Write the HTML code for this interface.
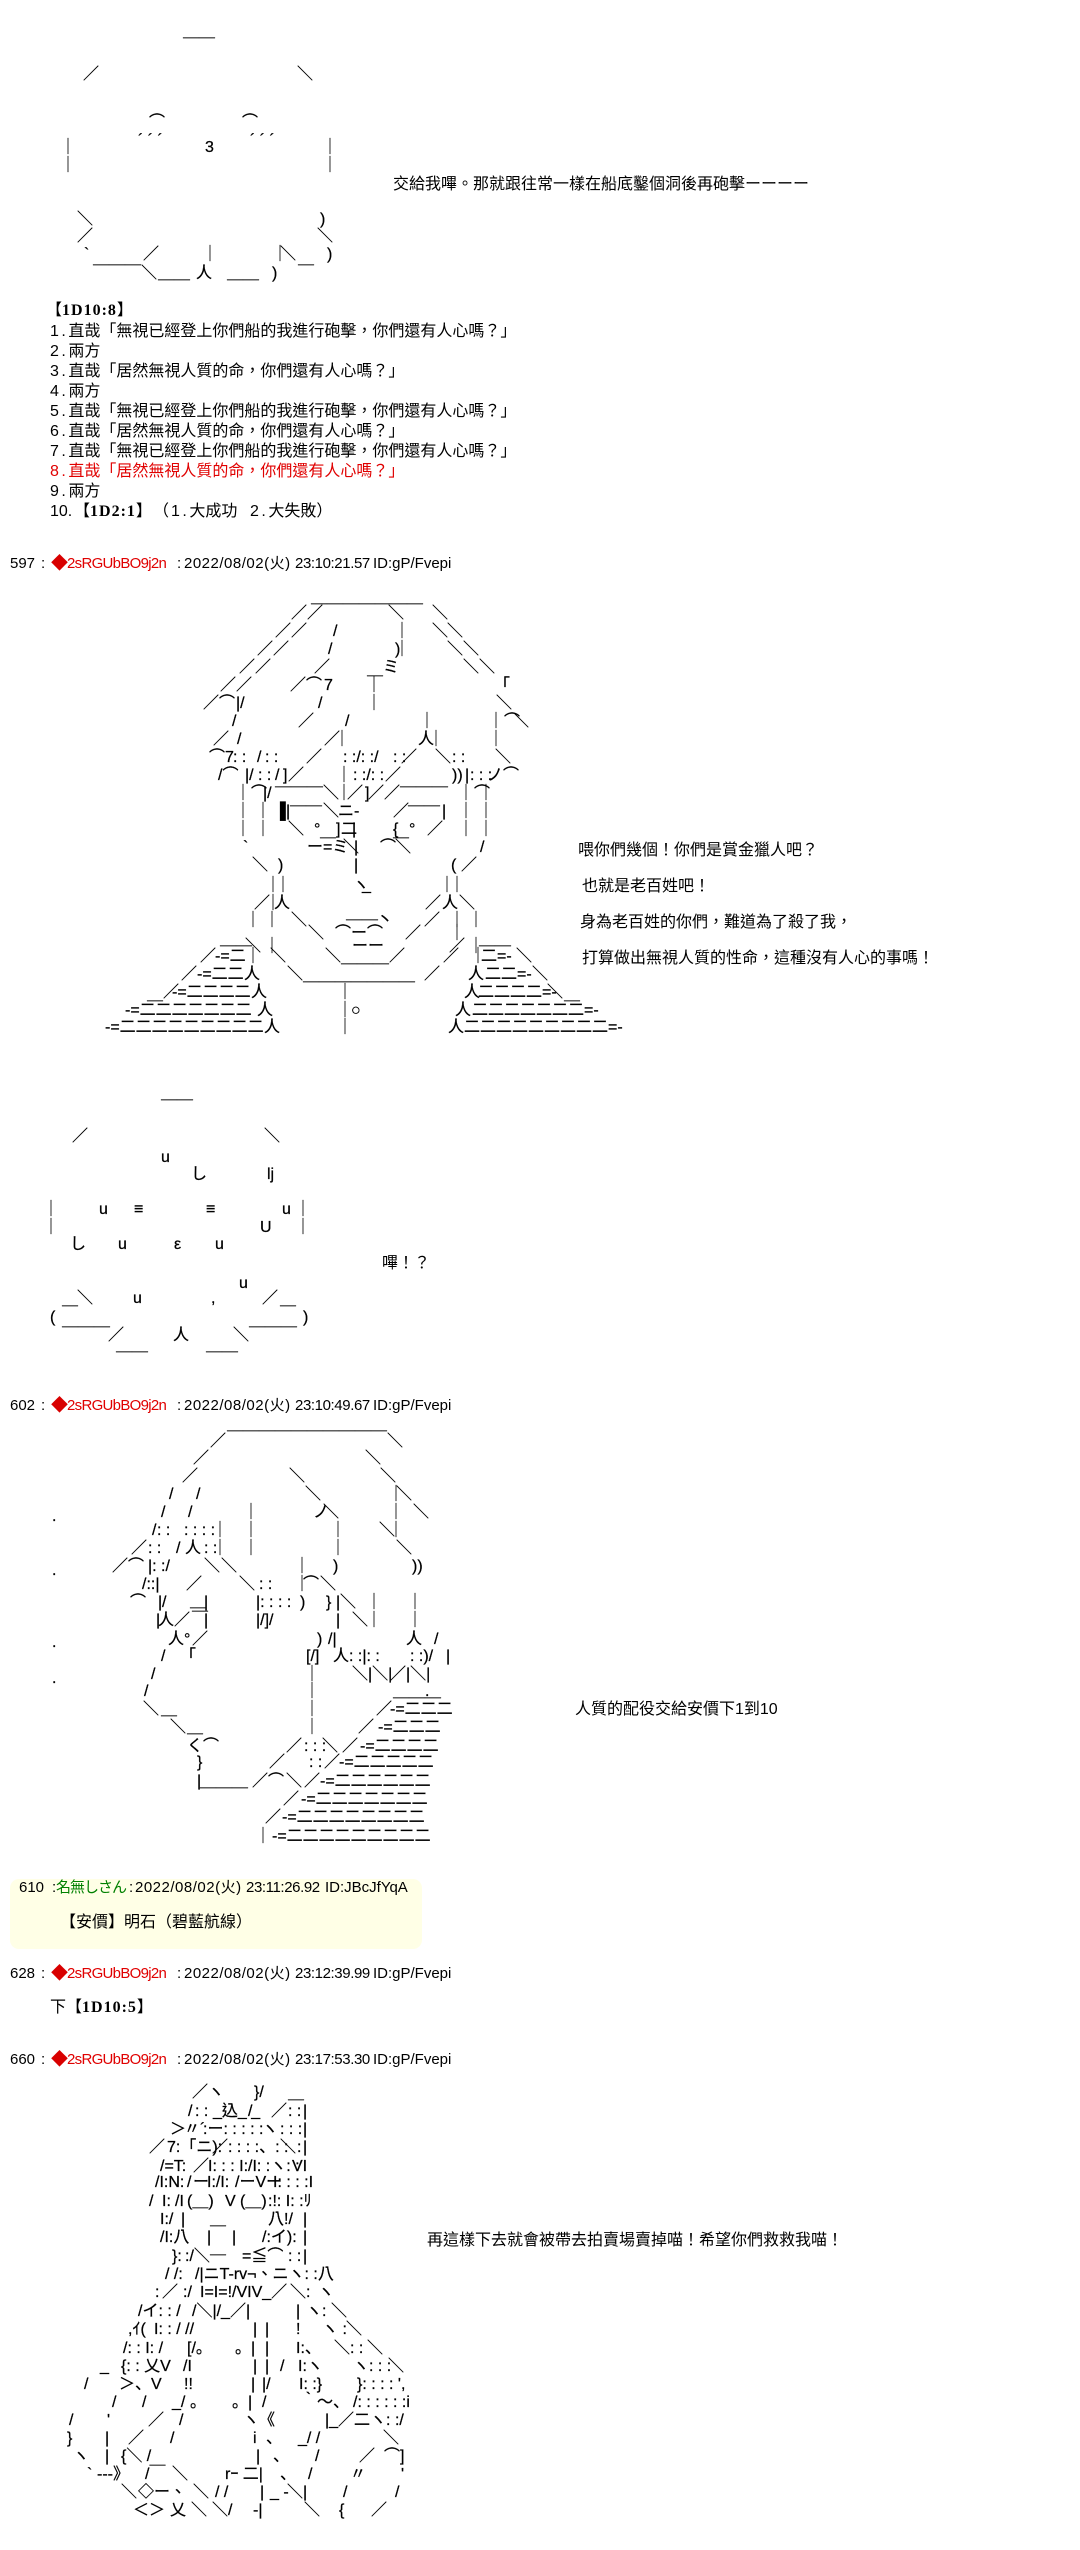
<!DOCTYPE html>
<html lang="zh-Hant"><head><meta charset="utf-8"><title>AA</title>
<style>
html,body{margin:0;padding:0;background:#fff}
#p{position:relative;width:1080px;height:2550px;overflow:hidden;background:#fff;color:#000;font:16px/18px "Liberation Sans","Noto Sans CJK JP",sans-serif}
.r{position:absolute;left:0;height:18px;width:1080px;-webkit-text-stroke:.25px #000}
.r u{position:absolute;top:0;text-decoration:none;white-space:pre}
.t{position:absolute;white-space:pre;font:16px/20px "Liberation Sans","Noto Sans CJK TC",sans-serif}
.t b{font:bold 16px/20px "Liberation Serif","Noto Sans CJK TC",serif;letter-spacing:1px}
.t i{font-style:normal;letter-spacing:2.5px}
.h{position:absolute;height:18px;width:600px;font:15px/18px "Liberation Sans","Noto Sans CJK JP",sans-serif}
.h u{position:absolute;top:0;text-decoration:none;white-space:pre}
.h .n{color:#e00000;letter-spacing:-.7px}
.h .d{font-size:17px;color:#d80000;margin-left:2px}
.h .a{letter-spacing:.5px}
.h .c{letter-spacing:-.4px}
#y{position:absolute;left:10px;top:1879px;width:412px;height:70px;background:#ffffe6;border-radius:9px}
</style></head><body><div id="p">

<div class="t" style="left:393px;top:175px">交給我嗶。那就跟往常一樣在船底鑿個洞後再砲擊ーーーー</div>
<div class="t" style="left:46px;top:301px">【<b>1D10:8</b>】</div>
<div class="t" style="left:50px;top:322px"><i>1.</i>直哉「無視已經登上你們船的我進行砲擊，你們還有人心嗎？」</div>
<div class="t" style="left:50px;top:342px"><i>2.</i>兩方</div>
<div class="t" style="left:50px;top:362px"><i>3.</i>直哉「居然無視人質的命，你們還有人心嗎？」</div>
<div class="t" style="left:50px;top:382px"><i>4.</i>兩方</div>
<div class="t" style="left:50px;top:402px"><i>5.</i>直哉「無視已經登上你們船的我進行砲擊，你們還有人心嗎？」</div>
<div class="t" style="left:50px;top:422px"><i>6.</i>直哉「居然無視人質的命，你們還有人心嗎？」</div>
<div class="t" style="left:50px;top:442px"><i>7.</i>直哉「無視已經登上你們船的我進行砲擊，你們還有人心嗎？」</div>
<div class="t" style="left:50px;top:462px;color:#e00000"><i>8.</i>直哉「居然無視人質的命，你們還有人心嗎？」</div>
<div class="t" style="left:50px;top:482px"><i>9.</i>兩方</div>
<div class="t" style="left:50px;top:502px">10.</div>
<div class="t" style="left:74px;top:502px">【<b>1D2:1</b>】</div>
<div class="t" style="left:153px;top:502px">（</div>
<div class="t" style="left:171px;top:502px"><i>1.</i>大成功</div>
<div class="t" style="left:250px;top:502px"><i>2.</i>大失敗）</div>

<div class="t" style="left:578px;top:841px">喂你們幾個！你們是賞金獵人吧？</div>
<div class="t" style="left:582px;top:877px">也就是老百姓吧！</div>
<div class="t" style="left:580px;top:913px">身為老百姓的你們，難道為了殺了我，</div>
<div class="t" style="left:582px;top:949px">打算做出無視人質的性命，這種沒有人心的事嗎！</div>
<div class="t" style="left:382px;top:1254px">嗶！？</div>
<div class="t" style="left:575px;top:1700px">人質的配役交給安價下1到10</div>
<div class="t" style="left:427px;top:2231px">再這樣下去就會被帶去拍賣場賣掉喵！希望你們救救我喵！</div>

<div class="h" style="left:0;top:555px"><u style="left:10px">597</u><u style="left:41px">:</u><u class="d" style="left:49px">◆</u><u class="n" style="left:67px">2sRGUbBO9j2n</u><u style="left:177px">:</u><u class="a" style="left:184px">2022/08/02(火)</u><u class="c" style="left:295px">23:10:21.57</u><u style="left:373px">ID:gP/Fvepi</u></div>
<div class="h" style="left:0;top:1397px"><u style="left:10px">602</u><u style="left:41px">:</u><u class="d" style="left:49px">◆</u><u class="n" style="left:67px">2sRGUbBO9j2n</u><u style="left:177px">:</u><u class="a" style="left:184px">2022/08/02(火)</u><u class="c" style="left:295px">23:10:49.67</u><u style="left:373px">ID:gP/Fvepi</u></div>
<div id="y"></div>
<div class="h" style="left:0;top:1879px"><u style="left:19px">610</u><u style="left:52px">:</u><u style="left:56px;color:#008000;letter-spacing:-1px">名無しさん</u><u style="left:129px">:</u><u class="a" style="left:135px">2022/08/02(火)</u><u class="c" style="left:246px">23:11:26.92</u><u style="left:325px">ID:JBcJfYqA</u></div>
<div class="t" style="left:60px;top:1913px">【安價】明石（碧藍航線）</div>
<div class="h" style="left:0;top:1965px"><u style="left:10px">628</u><u style="left:41px">:</u><u class="d" style="left:49px">◆</u><u class="n" style="left:67px">2sRGUbBO9j2n</u><u style="left:177px">:</u><u class="a" style="left:184px">2022/08/02(火)</u><u class="c" style="left:295px">23:12:39.99</u><u style="left:373px">ID:gP/Fvepi</u></div>
<div class="t" style="left:50px;top:1998px">下【<b>1D10:5</b>】</div>
<div class="h" style="left:0;top:2051px"><u style="left:10px">660</u><u style="left:41px">:</u><u class="d" style="left:49px">◆</u><u class="n" style="left:67px">2sRGUbBO9j2n</u><u style="left:177px">:</u><u class="a" style="left:184px">2022/08/02(火)</u><u class="c" style="left:295px">23:17:53.30</u><u style="left:373px">ID:gP/Fvepi</u></div>

<!-- figure 1 -->
<div class="r" style="top:23px"><u style="left:183px">＿＿</u></div>
<div class="r" style="top:66px"><u style="left:83px">／</u><u style="left:297px">＼</u></div>
<div class="r" style="top:114px"><u style="left:149px">⌒</u><u style="left:242px">⌒</u></div>
<div class="r" style="top:132px"><u style="left:138px">´ ´ ´</u><u style="left:250px">´ ´ ´</u></div>
<div class="r" style="top:139px"><u style="left:60px">｜</u><u style="left:205px">3</u><u style="left:322px">｜</u></div>
<div class="r" style="top:157px"><u style="left:60px">｜</u><u style="left:322px">｜</u></div>
<div class="r" style="top:211px"><u style="left:77px">＼</u><u style="left:320px">)</u></div>
<div class="r" style="top:228px"><u style="left:77px">／</u><u style="left:317px">＼</u></div>
<div class="r" style="top:246px"><u style="left:84px">`</u><u style="left:143px">／</u><u style="left:202px">｜</u><u style="left:272px">｜</u><u style="left:280px">＼</u><u style="left:327px">)</u></div>
<div class="r" style="top:250px"><u style="left:93px">＿＿＿</u><u style="left:298px">＿</u></div>
<div class="r" style="top:265px"><u style="left:141px">＼</u><u style="left:196px">人</u><u style="left:272px">)</u></div>
<div class="r" style="top:265px"><u style="left:158px">＿＿</u><u style="left:227px">＿＿</u></div>

<!-- figure 2 -->
<div class="r" style="top:589px"><u style="left:311px">＿＿＿＿＿＿＿</u></div>
<div class="r" style="top:605px"><u style="left:291px">／／</u><u style="left:388px">＼</u><u style="left:432px">＼</u></div>
<div class="r" style="top:623px"><u style="left:275px">／／</u><u style="left:333px">/</u><u style="left:394px">｜</u><u style="left:432px">＼</u><u style="left:447px">＼</u></div>
<div class="r" style="top:641px"><u style="left:257px">／／</u><u style="left:328px">/</u><u style="left:394px">｜</u><u style="left:395px">)</u><u style="left:447px">＼</u><u style="left:463px">＼</u></div>
<div class="r" style="top:659px"><u style="left:239px">／／</u><u style="left:314px">／</u><u style="left:383px">ミ</u><u style="left:463px">＼</u><u style="left:479px">＼</u></div>
<div class="r" style="top:661px"><u style="left:367px">＿</u></div>
<div class="r" style="top:677px"><u style="left:220px">／／</u><u style="left:290px">／⌒</u><u style="left:324px">7</u><u style="left:366px">｜</u><u style="left:494px">「</u></div>
<div class="r" style="top:695px"><u style="left:203px">／⌒</u><u style="left:236px">|/</u><u style="left:318px">/</u><u style="left:366px">｜</u><u style="left:496px">＼</u></div>
<div class="r" style="top:713px"><u style="left:232px">/</u><u style="left:298px">／</u><u style="left:345px">/</u><u style="left:419px">｜</u><u style="left:488px">｜⌒</u><u style="left:513px">＼</u></div>
<div class="r" style="top:731px"><u style="left:213px">／</u><u style="left:237px">/</u><u style="left:324px">／</u><u style="left:334px">｜</u><u style="left:418px">人</u><u style="left:428px">｜</u><u style="left:488px">｜</u></div>
<div class="r" style="top:749px"><u style="left:209px">⌒7</u><u style="left:233px">: :</u><u style="left:257px">/</u><u style="left:265px">: :</u><u style="left:306px">／</u><u style="left:343px">: :/: :/</u><u style="left:393px">: :</u><u style="left:401px">／</u><u style="left:435px">＼</u><u style="left:452px">: :</u><u style="left:495px">＼</u></div>
<div class="r" style="top:767px"><u style="left:218px">/⌒</u><u style="left:245px">|/</u><u style="left:258px">: :</u><u style="left:275px">/</u><u style="left:283px">]</u><u style="left:288px">／</u><u style="left:336px">｜</u><u style="left:353px">: :/: :</u><u style="left:385px">／</u><u style="left:452px">))</u><u style="left:465px">|</u><u style="left:470px">: : :</u><u style="left:487px">ノ⌒</u></div>
<div class="r" style="top:772px"><u style="left:275px">＿＿＿</u><u style="left:400px">＿＿＿</u></div>
<div class="r" style="top:785px"><u style="left:235px">｜⌒</u><u style="left:263px">|/</u><u style="left:323px">＼</u><u style="left:336px">｜</u><u style="left:347px">／</u><u style="left:365px">]</u><u style="left:368px">／／</u><u style="left:458px">｜⌒</u><u style="left:478px">｜</u></div>
<div class="r" style="top:791px"><u style="left:290px">＿＿</u><u style="left:408px">＿＿</u></div>
<div class="r" style="top:803px"><u style="left:235px">｜</u><u style="left:255px">｜</u><u style="left:280px">▌</u><u style="left:286px">|</u><u style="left:323px">＼</u><u style="left:338px">ニ-</u><u style="left:393px">／</u><u style="left:442px">|</u><u style="left:458px">｜</u><u style="left:478px">｜</u></div>
<div class="r" style="top:821px"><u style="left:235px">｜</u><u style="left:255px">｜</u><u style="left:288px">＼</u><u style="left:314px">°</u><u style="left:336px">]</u><u style="left:341px">二</u><u style="left:352px">|</u><u style="left:393px">{</u><u style="left:409px">°</u><u style="left:427px">／</u><u style="left:458px">｜</u><u style="left:478px">｜</u></div>
<div class="r" style="top:823px"><u style="left:320px">＿</u><u style="left:393px">＿</u></div>
<div class="r" style="top:839px"><u style="left:243px">`</u><u style="left:307px">ー=ミ</u><u style="left:343px">＼</u><u style="left:354px">|</u><u style="left:380px">⌒</u><u style="left:395px">＼</u><u style="left:480px">/</u></div>
<div class="r" style="top:857px"><u style="left:252px">＼</u><u style="left:278px">)</u><u style="left:354px">|</u><u style="left:451px">(</u><u style="left:461px">／</u></div>
<div class="r" style="top:877px"><u style="left:265px">｜</u><u style="left:275px">｜</u><u style="left:353px">ヽ</u><u style="left:362px">_</u><u style="left:439px">｜</u><u style="left:449px">｜</u></div>
<div class="r" style="top:895px"><u style="left:254px">／</u><u style="left:265px">｜</u><u style="left:274px">人</u><u style="left:425px">／</u><u style="left:442px">人</u><u style="left:459px">＼</u></div>
<div class="r" style="top:905px"><u style="left:346px">＿＿</u></div>
<div class="r" style="top:912px"><u style="left:245px">｜</u><u style="left:264px">｜</u><u style="left:291px">＼</u><u style="left:377px">丶</u><u style="left:424px">／</u><u style="left:449px">｜</u><u style="left:468px">｜</u></div>
<div class="r" style="top:925px"><u style="left:308px">＼</u><u style="left:335px">⌒ー⌒</u><u style="left:405px">／</u><u style="left:449px">｜</u></div>
<div class="r" style="top:931px"><u style="left:220px">＿＿</u><u style="left:479px">＿＿</u></div>
<div class="r" style="top:938px"><u style="left:245px">＼</u><u style="left:264px">｜</u><u style="left:352px">ーー</u><u style="left:449px">／</u><u style="left:468px">｜</u></div>
<div class="r" style="top:948px"><u style="left:200px">／</u><u style="left:215px">-=二</u><u style="left:245px">｜</u><u style="left:270px">＼</u><u style="left:325px">＼</u><u style="left:389px">／</u><u style="left:443px">／</u><u style="left:470px">｜</u><u style="left:481px">二=-</u><u style="left:516px">＼</u></div>
<div class="r" style="top:949px"><u style="left:341px">＿＿＿</u></div>
<div class="r" style="top:966px"><u style="left:181px">／</u><u style="left:197px">-=二二</u><u style="left:244px">人</u><u style="left:287px">＼</u><u style="left:424px">／</u><u style="left:468px">人</u><u style="left:485px">二二=-</u><u style="left:532px">＼</u></div>
<div class="r" style="top:967px"><u style="left:303px">＿＿＿＿＿＿＿</u></div>
<div class="r" style="top:984px"><u style="left:163px">／</u><u style="left:172px">-=二二二二</u><u style="left:251px">人</u><u style="left:337px">｜</u><u style="left:464px">人</u><u style="left:478px">二二二二=-</u><u style="left:547px">＼</u></div>
<div class="r" style="top:986px"><u style="left:147px">＿</u><u style="left:564px">＿</u></div>
<div class="r" style="top:1002px"><u style="left:125px">-=二二二二二二二</u><u style="left:257px">人</u><u style="left:337px">｜</u><u style="left:351px">○</u><u style="left:455px">人</u><u style="left:472px">二二二二二二二=-</u></div>
<div class="r" style="top:1019px"><u style="left:105px">-=二二二二二二二二二</u><u style="left:264px">人</u><u style="left:337px">｜</u><u style="left:448px">人</u><u style="left:464px">二二二二二二二二二=-</u></div>

<!-- figure 3 -->
<div class="r" style="top:1085px"><u style="left:161px">＿＿</u></div>
<div class="r" style="top:1128px"><u style="left:72px">／</u><u style="left:264px">＼</u></div>
<div class="r" style="top:1149px"><u style="left:161px">u</u></div>
<div class="r" style="top:1166px"><u style="left:191px">し</u><u style="left:267px">lj</u></div>
<div class="r" style="top:1201px"><u style="left:43px">｜</u><u style="left:99px">u</u><u style="left:134px">≡</u><u style="left:206px">≡</u><u style="left:282px">u</u><u style="left:295px">｜</u></div>
<div class="r" style="top:1219px"><u style="left:43px">｜</u><u style="left:260px">U</u><u style="left:295px">｜</u></div>
<div class="r" style="top:1236px"><u style="left:70px">し</u><u style="left:118px">u</u><u style="left:174px">ε</u><u style="left:215px">u</u></div>
<div class="r" style="top:1275px"><u style="left:239px">u</u></div>
<div class="r" style="top:1290px"><u style="left:77px">＼</u><u style="left:133px">u</u><u style="left:211px">,</u><u style="left:262px">／</u></div>
<div class="r" style="top:1291px"><u style="left:62px">＿</u><u style="left:280px">＿</u></div>
<div class="r" style="top:1309px"><u style="left:50px">(</u><u style="left:303px">)</u></div>
<div class="r" style="top:1312px"><u style="left:62px">＿＿＿</u><u style="left:249px">＿＿＿</u></div>
<div class="r" style="top:1327px"><u style="left:108px">／</u><u style="left:173px">人</u><u style="left:233px">＼</u></div>
<div class="r" style="top:1337px"><u style="left:116px">＿＿</u><u style="left:206px">＿＿</u></div>

<!-- figure 4 -->
<div class="r" style="top:1416px"><u style="left:227px">＿＿＿＿＿＿＿＿＿＿</u></div>
<div class="r" style="top:1433px"><u style="left:210px">／</u><u style="left:387px">＼</u></div>
<div class="r" style="top:1450px"><u style="left:193px">／</u><u style="left:365px">＼</u></div>
<div class="r" style="top:1468px"><u style="left:182px">／</u><u style="left:289px">＼</u><u style="left:380px">＼</u></div>
<div class="r" style="top:1486px"><u style="left:169px">/</u><u style="left:196px">/</u><u style="left:305px">＼</u><u style="left:388px">｜</u><u style="left:396px">＼</u></div>
<div class="r" style="top:1504px"><u style="left:161px">/</u><u style="left:188px">/</u><u style="left:243px">｜</u><u style="left:313px">ノ</u><u style="left:323px">＼</u><u style="left:388px">｜</u><u style="left:413px">＼</u></div>
<div class="r" style="top:1508px"><u style="left:52px">.</u></div>
<div class="r" style="top:1522px"><u style="left:152px">/</u><u style="left:157px">: :</u><u style="left:184px">: : : :</u><u style="left:212px">｜</u><u style="left:243px">｜</u><u style="left:330px">｜</u><u style="left:379px">＼</u><u style="left:388px">｜</u></div>
<div class="r" style="top:1540px"><u style="left:131px">／</u><u style="left:148px">: :</u><u style="left:176px">/</u><u style="left:185px">人</u><u style="left:204px">: :</u><u style="left:212px">｜</u><u style="left:243px">｜</u><u style="left:330px">｜</u><u style="left:396px">＼</u></div>
<div class="r" style="top:1558px"><u style="left:112px">／⌒</u><u style="left:148px">|: :/</u><u style="left:204px">＼</u><u style="left:221px">＼</u><u style="left:294px">｜</u><u style="left:333px">)</u><u style="left:412px">))</u></div>
<div class="r" style="top:1562px"><u style="left:52px">.</u></div>
<div class="r" style="top:1576px"><u style="left:142px">/::|</u><u style="left:186px">／</u><u style="left:239px">＼</u><u style="left:259px">: :</u><u style="left:294px">｜</u><u style="left:303px">⌒</u><u style="left:320px">＼</u></div>
<div class="r" style="top:1594px"><u style="left:130px">⌒</u><u style="left:158px">|</u><u style="left:162px">/</u><u style="left:204px">|</u><u style="left:256px">|: : : :</u><u style="left:300px">)</u><u style="left:326px">}</u><u style="left:336px">|</u><u style="left:340px">＼</u><u style="left:366px">｜</u><u style="left:407px">｜</u></div>
<div class="r" style="top:1593px"><u style="left:190px">＿</u></div>
<div class="r" style="top:1612px"><u style="left:156px">|</u><u style="left:158px">人／</u><u style="left:192px">￣</u><u style="left:204px">|</u><u style="left:256px">|/]/</u><u style="left:336px">|</u><u style="left:352px">＼</u><u style="left:366px">｜</u><u style="left:407px">｜</u></div>
<div class="r" style="top:1631px"><u style="left:168px">人</u><u style="left:184px">°</u><u style="left:192px">／</u><u style="left:317px">)</u><u style="left:328px">/|</u><u style="left:406px">人</u><u style="left:434px">/</u></div>
<div class="r" style="top:1634px"><u style="left:52px">.</u></div>
<div class="r" style="top:1648px"><u style="left:161px">/</u><u style="left:180px">「</u><u style="left:306px">[/]</u><u style="left:333px">人: :|: :</u><u style="left:410px">: :)/</u><u style="left:446px">|</u></div>
<div class="r" style="top:1666px"><u style="left:151px">/</u><u style="left:304px">｜</u><u style="left:352px">＼|＼|</u><u style="left:390px">／|＼|</u></div>
<div class="r" style="top:1670px"><u style="left:52px">.</u></div>
<div class="r" style="top:1683px"><u style="left:144px">/</u><u style="left:304px">｜</u><u style="left:425px">.</u></div>
<div class="r" style="top:1683px"><u style="left:393px">＿＿＿</u></div>
<div class="r" style="top:1701px"><u style="left:143px">＼</u><u style="left:304px">｜</u><u style="left:376px">／</u><u style="left:390px">-=二二二</u></div>
<div class="r" style="top:1701px"><u style="left:161px">＿</u></div>
<div class="r" style="top:1719px"><u style="left:170px">＼</u><u style="left:304px">｜</u><u style="left:358px">／</u><u style="left:378px">-=二二二</u></div>
<div class="r" style="top:1719px"><u style="left:187px">＿</u></div>
<div class="r" style="top:1738px"><u style="left:187px">く⌒</u><u style="left:286px">／</u><u style="left:304px">: : :</u><u style="left:322px">＼</u><u style="left:342px">／</u><u style="left:360px">-=二二二二</u></div>
<div class="r" style="top:1754px"><u style="left:197px">}</u><u style="left:269px">／</u><u style="left:309px">: :</u><u style="left:324px">／</u><u style="left:339px">-=二二二二二</u></div>
<div class="r" style="top:1773px"><u style="left:197px">|</u><u style="left:252px">／⌒</u><u style="left:286px">＼</u><u style="left:304px">／</u><u style="left:320px">-=二二二二二二</u></div>
<div class="r" style="top:1773px"><u style="left:200px">＿＿＿</u></div>
<div class="r" style="top:1791px"><u style="left:283px">／</u><u style="left:301px">-=二二二二二二二</u></div>
<div class="r" style="top:1809px"><u style="left:265px">／</u><u style="left:282px">-=二二二二二二二二</u></div>
<div class="r" style="top:1828px"><u style="left:255px">｜</u><u style="left:272px">-=二二二二二二二二二</u></div>

<!-- figure 5 -->
<div class="r" style="top:2084px"><u style="left:192px">／</u><u style="left:208px">ヽ</u><u style="left:254px">}/</u></div>
<div class="r" style="top:2085px"><u style="left:288px">＿</u></div>
<div class="r" style="top:2103px"><u style="left:188px">/</u><u style="left:195px">: :</u><u style="left:213px">_込_ _</u><u style="left:248px">/</u><u style="left:271px">／</u><u style="left:288px">: :</u><u style="left:303px">|</u></div>
<div class="r" style="top:2121px"><u style="left:170px">＞</u><u style="left:184px">〃´</u><u style="left:203px">:ー: : : : :</u><u style="left:262px">ヽ</u><u style="left:280px">: : :</u><u style="left:303px">|</u></div>
<div class="r" style="top:2139px"><u style="left:149px">／</u><u style="left:167px">7:「ニ):</u><u style="left:212px">／</u><u style="left:228px">: : : :、: :</u><u style="left:280px">＼</u><u style="left:297px">:</u><u style="left:303px">|</u></div>
<div class="r" style="top:2158px"><u style="left:160px">/=T:</u><u style="left:193px">／</u><u style="left:208px">I: : : I:/I: :ヽ: :</u><u style="left:292px">VI</u></div>
<div class="r" style="top:2174px"><u style="left:155px">/I:N:</u><u style="left:187px">/</u><u style="left:193px">ー</u><u style="left:207px">I:/I:</u><u style="left:235px">/ーVー</u><u style="left:273px">I: : : :I</u></div>
<div class="r" style="top:2193px"><u style="left:149px">/</u><u style="left:162px">I:</u><u style="left:175px">/I</u><u style="left:187px">(＿)</u><u style="left:225px">V</u><u style="left:240px">(＿)</u><u style="left:268px">:!: I: :ﾘ</u></div>
<div class="r" style="top:2211px"><u style="left:160px">I:/</u><u style="left:181px">|</u><u style="left:268px">八!/</u><u style="left:303px">|</u></div>
<div class="r" style="top:2211px"><u style="left:210px">＿</u></div>
<div class="r" style="top:2229px"><u style="left:160px">/I:八</u><u style="left:207px">|</u><u style="left:232px">|</u><u style="left:262px">/:イ):</u><u style="left:303px">|</u></div>
<div class="r" style="top:2248px"><u style="left:172px">}:</u><u style="left:185px">:/＼</u><u style="left:242px">=≦⌒</u><u style="left:288px">: :</u><u style="left:303px">|</u></div>
<div class="r" style="top:2240px"><u style="left:210px">＿</u></div>
<div class="r" style="top:2266px"><u style="left:165px">/ /:</u><u style="left:195px">/|ニT-rv¬、ニヽ: :八</u></div>
<div class="r" style="top:2284px"><u style="left:155px">:</u><u style="left:162px">／</u><u style="left:183px">:/</u><u style="left:200px">I=I=!</u><u style="left:232px">/VIV_／</u><u style="left:290px">＼</u><u style="left:306px">:</u><u style="left:318px">ヽ</u></div>
<div class="r" style="top:2303px"><u style="left:138px">/イ: : /</u><u style="left:192px">/＼|/_／|</u><u style="left:296px">|</u><u style="left:306px">ヽ:</u><u style="left:331px">＼</u></div>
<div class="r" style="top:2321px"><u style="left:128px">,ｲ(</u><u style="left:154px">I: : / //</u><u style="left:253px">|</u><u style="left:265px">|</u><u style="left:296px">!</u><u style="left:322px">ヽ :</u><u style="left:346px">＼</u></div>
<div class="r" style="top:2340px"><u style="left:123px">/: : I: /</u><u style="left:187px">[/。</u><u style="left:235px">。|</u><u style="left:265px">|</u><u style="left:296px">I:、</u><u style="left:334px">＼: :</u><u style="left:367px">＼</u></div>
<div class="r" style="top:2358px"><u style="left:100px">_</u><u style="left:121px">{: : 乂V</u><u style="left:183px">/I</u><u style="left:253px">|</u><u style="left:265px">|</u><u style="left:280px">/</u><u style="left:298px">I:ヽ</u><u style="left:353px">ヽ: : :</u><u style="left:388px">＼</u></div>
<div class="r" style="top:2376px"><u style="left:84px">/</u><u style="left:119px">＞、V</u><u style="left:184px">!!</u><u style="left:251px">|</u><u style="left:262px">|/</u><u style="left:299px">I: :}</u><u style="left:357px">}: : : : ',</u></div>
<div class="r" style="top:2394px"><u style="left:112px">/</u><u style="left:142px">/</u><u style="left:172px">_/</u><u style="left:190px">。</u><u style="left:232px">。|</u><u style="left:262px">/</u><u style="left:301px">｀～、</u><u style="left:353px">/: : : : : :i</u></div>
<div class="r" style="top:2412px"><u style="left:69px">/</u><u style="left:107px">'</u><u style="left:148px">／</u><u style="left:179px">/</u><u style="left:243px">ヽ《</u><u style="left:325px">|_／二ヽ: :/</u></div>
<div class="r" style="top:2430px"><u style="left:67px">}</u><u style="left:105px">|</u><u style="left:128px">／</u><u style="left:170px">/</u><u style="left:253px">i</u><u style="left:266px">、</u><u style="left:298px">_/ /</u><u style="left:383px">＼</u></div>
<div class="r" style="top:2448px"><u style="left:73px">ヽ</u><u style="left:105px">|</u><u style="left:121px">{＼ /</u><u style="left:256px">|</u><u style="left:273px">、</u><u style="left:315px">/</u><u style="left:359px">／</u><u style="left:384px">⌒]</u></div>
<div class="r" style="top:2466px"><u style="left:87px">`</u><u style="left:97px">---》</u><u style="left:145px">/￣</u><u style="left:172px">＼</u><u style="left:225px">rｰ 二|</u><u style="left:280px">、</u><u style="left:308px">/</u><u style="left:350px">〃</u><u style="left:401px">'</u></div>
<div class="r" style="top:2484px"><u style="left:121px">＼</u><u style="left:138px">◇ー、</u><u style="left:193px">＼</u><u style="left:215px">/ /</u><u style="left:260px">|</u><u style="left:270px">_ -</u><u style="left:287px">＼</u><u style="left:303px">|</u><u style="left:343px">/</u><u style="left:395px">/</u></div>
<div class="r" style="top:2502px"><u style="left:133px">＜＞</u><u style="left:170px">乂</u><u style="left:191px">＼</u><u style="left:212px">＼/</u><u style="left:253px">-|</u><u style="left:304px">＼</u><u style="left:339px">{</u><u style="left:371px">／</u></div>

</div></body></html>
